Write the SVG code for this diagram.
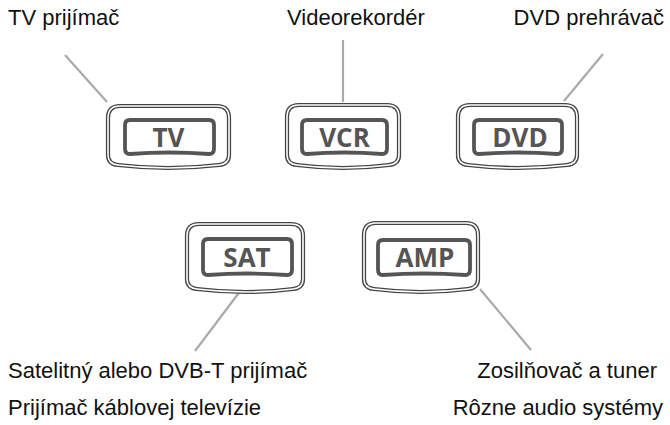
<svg xmlns="http://www.w3.org/2000/svg" width="670" height="425" viewBox="0 0 670 425">
<style>
.lbl{font-family:"Liberation Sans Narrow","Liberation Sans",Arial,sans-serif;font-size:22px;fill:#111}
.r{text-anchor:end}
.ob{fill:none;stroke:#444;stroke-width:4.2}
.ow{fill:none;stroke:#fff;stroke-width:1.6}
.in{fill:none;stroke:#555;stroke-width:3.8;stroke-linejoin:round}
.bt{font-family:"Open Sans","DejaVu Sans",sans-serif;font-weight:bold;font-size:26px;fill:#555;text-anchor:middle}
.con{stroke:#aaa;stroke-width:2.2;fill:none}
</style>
<rect width="670" height="425" fill="#fff"/>
<g id="connectors">
<line class="con" x1="65" y1="55" x2="107" y2="102"/>
<line class="con" x1="343" y1="40" x2="343" y2="102"/>
<line class="con" x1="603" y1="54" x2="564" y2="101"/>
<line class="con" x1="241" y1="290" x2="195" y2="351"/>
<line class="con" x1="480" y1="289" x2="531" y2="350"/>
</g>
<g id="labels">
<text class="lbl" x="8" y="25">TV prijímač</text>
<text class="lbl" x="287" y="25">Videorekordér</text>
<text class="lbl r" x="664" y="25">DVD prehrávač</text>
<text class="lbl" x="8" y="378">Satelitný alebo DVB-T prijímač</text>
<text class="lbl" x="8" y="415">Prijímač káblovej televízie</text>
<text class="lbl r" x="657" y="378">Zosilňovač a tuner</text>
<text class="lbl r" x="663" y="415">Rôzne audio systémy</text>
</g>
<g id="tv">
<path class="ob" d="M120,106 H217 Q229,106 229,118 V155 Q229,164 219,165 Q168,171 118,165 Q108,164 108,155 V118 Q108,106 120,106 Z"/>
<path class="ow" d="M120,106 H217 Q229,106 229,118 V155 Q229,164 219,165 Q168,171 118,165 Q108,164 108,155 V118 Q108,106 120,106 Z"/>
<path class="in" d="M130,120 H209 Q214,120 214,125 V149 Q214,154 209,154 Q169,151 130,154 Q125,154 125,149 V125 Q125,120 130,120 Z"/>
<text class="bt" x="168.5" y="147">TV</text>
</g>
<g id="vcr">
<path class="ob" d="M299,105 H387 Q399,105 399,117 V155 Q399,164 389,165 Q343,171 297,165 Q287,164 287,155 V117 Q287,105 299,105 Z"/>
<path class="ow" d="M299,105 H387 Q399,105 399,117 V155 Q399,164 389,165 Q343,171 297,165 Q287,164 287,155 V117 Q287,105 299,105 Z"/>
<path class="in" d="M307,120 H382 Q387,120 387,125 V149 Q387,154 382,154 Q344,151 307,154 Q302,154 302,149 V125 Q302,120 307,120 Z"/>
<text class="bt" x="344.5" y="147">VCR</text>
</g>
<g id="dvd">
<path class="ob" d="M470,105 H565 Q577,105 577,117 V155 Q577,164 567,165 Q517,171 468,165 Q458,164 458,155 V117 Q458,105 470,105 Z"/>
<path class="ow" d="M470,105 H565 Q577,105 577,117 V155 Q577,164 567,165 Q517,171 468,165 Q458,164 458,155 V117 Q458,105 470,105 Z"/>
<path class="in" d="M479,120 H557 Q562,120 562,125 V149 Q562,154 557,154 Q518,151 479,154 Q474,154 474,149 V125 Q474,120 479,120 Z"/>
<text class="bt" x="520" y="147">DVD</text>
</g>
<g id="sat">
<path class="ob" d="M199,224 H291 Q303,224 303,236 V279 Q303,288 293,289 Q245,295 197,289 Q187,288 187,279 V236 Q187,224 199,224 Z"/>
<path class="ow" d="M199,224 H291 Q303,224 303,236 V279 Q303,288 293,289 Q245,295 197,289 Q187,288 187,279 V236 Q187,224 199,224 Z"/>
<path class="in" d="M208,239 H287 Q292,239 292,244 V270 Q292,275 287,275 Q247,272 208,275 Q203,275 203,270 V244 Q203,239 208,239 Z"/>
<text class="bt" x="247" y="267">SAT</text>
</g>
<g id="amp">
<path class="ob" d="M376,223 H466 Q478,223 478,235 V279 Q478,288 468,289 Q421,295 374,289 Q364,288 364,279 V235 Q364,223 376,223 Z"/>
<path class="ow" d="M376,223 H466 Q478,223 478,235 V279 Q478,288 468,289 Q421,295 374,289 Q364,288 364,279 V235 Q364,223 376,223 Z"/>
<path class="in" d="M383,240 H465 Q470,240 470,245 V270 Q470,275 465,275 Q424,272 383,275 Q378,275 378,270 V245 Q378,240 383,240 Z"/>
<text class="bt" x="425" y="267">AMP</text>
</g>
</svg>
